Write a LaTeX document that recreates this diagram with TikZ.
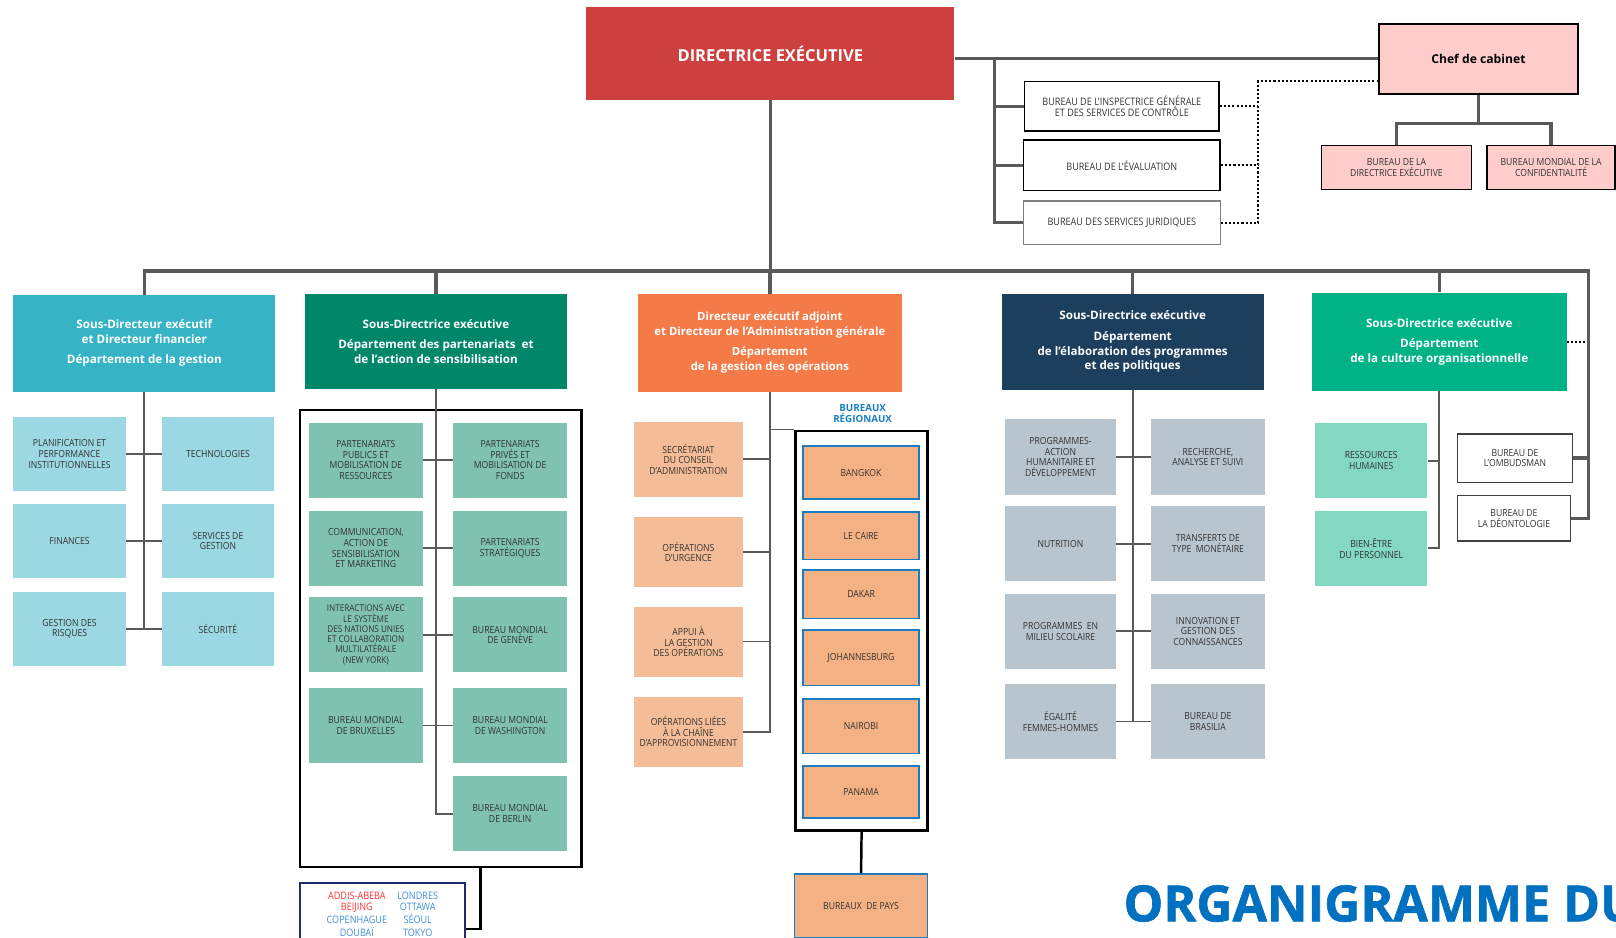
\documentclass[tikz,border=0pt]{standalone}
\usepackage{fontspec}
\setmainfont{Open Sans}
\newfontfamily\boxfont{Open Sans}[FakeStretch=0.88]
\newfontfamily\titlefont{Open Sans}[FakeBold=1.2]

\definecolor{linegray}{HTML}{5A5A5A}
\definecolor{textgray}{HTML}{333333}
\definecolor{dirred}{HTML}{CD4040}
\definecolor{chefpink}{HTML}{FFCCCC}
\definecolor{gestteal}{HTML}{36B4C5}
\definecolor{gestlight}{HTML}{9BD8E2}
\definecolor{partgreen}{HTML}{00876A}
\definecolor{partlight}{HTML}{7FC2AF}
\definecolor{opsorange}{HTML}{F47A48}
\definecolor{opslight}{HTML}{F5BD97}
\definecolor{regfill}{HTML}{F4B183}
\definecolor{regblue}{HTML}{1A7DC4}
\definecolor{progblue}{HTML}{1C3F5E}
\definecolor{proglight}{HTML}{B8C4CE}
\definecolor{cultgreen}{HTML}{00B386}
\definecolor{cultlight}{HTML}{82D8C0}
\definecolor{titleblue}{HTML}{0070C0}
\definecolor{cityred}{HTML}{FF3030}
\definecolor{cityblue}{HTML}{3F8ED8}
\definecolor{navy}{HTML}{1F2D6B}

\begin{document}
\begin{tikzpicture}[x=1pt, y=-1pt,
  bus/.style={draw=linegray, line width=3.2pt},
  stub/.style={draw=linegray, line width=1.8pt},
  dots/.style={draw=black, line width=2pt, dash pattern=on 2pt off 2pt},
  frame/.style={draw=black, line width=2.4pt, inner sep=0},
  head/.style={inner sep=0, text=white, align=center,
    font=\bfseries\fontsize{11.3}{14}\selectfont},
  sub/.style={inner sep=0, text=textgray, align=center,
    font=\boxfont\fontsize{9.5}{10.3}\selectfont},
  gestbox/.style={sub, fill=gestlight, minimum width=109, minimum height=72},
  partbox/.style={sub, fill=partlight, minimum width=110, minimum height=73},
  opsbox/.style={sub, fill=opslight, minimum width=106, minimum height=68},
  regbox/.style={sub, fill=regfill, draw=regblue, line width=1.6pt, minimum width=113},
  progbox/.style={sub, fill=proglight, minimum width=108, minimum height=73},
  cultbox/.style={sub, fill=cultlight, minimum width=109, minimum height=73},
  whitebox/.style={sub, fill=white, draw=black!75, line width=1.4pt, minimum width=112}]

  \useasboundingbox (0,0) rectangle (1568,910);

  % Top of the chart
  \node[head, fill=dirred, minimum width=357, minimum height=90,
    font=\bfseries\fontsize{16}{18}\selectfont] (dir) at (747.5,52) {DIRECTRICE EXÉCUTIVE};
  \node[head, fill=chefpink, draw=black, line width=1.6pt, text=black,
    minimum width=193, minimum height=68, font=\bfseries\fontsize{11.8}{14}\selectfont] (chef)
    at (1434.5,57) {Chef de cabinet};
  \node[sub, draw=black, line width=1.6pt, minimum width=189, minimum height=48,
    font=\boxfont\fontsize{10}{11}\selectfont] (insp)
    at (1088.5,103) {BUREAU DE L’INSPECTRICE GÉNÉRALE\\ET DES SERVICES DE CONTRÔLE};
  \node[sub, draw=black, line width=1.6pt, minimum width=191, minimum height=49,
    font=\boxfont\fontsize{10}{11}\selectfont] (eval)
    at (1088.5,160.5) {BUREAU DE L’ÉVALUATION};
  \node[sub, draw=gray, line width=1.2pt, minimum width=191, minimum height=42,
    font=\boxfont\fontsize{10}{11}\selectfont] (jur)
    at (1088.5,216) {BUREAU DES SERVICES JURIDIQUES};
  \node[sub, fill=chefpink, draw=black, line width=1.4pt, minimum width=146, minimum height=43] (bde)
    at (1355,162.5) {BUREAU DE LA\\DIRECTRICE EXÉCUTIVE};
  \node[sub, fill=chefpink, draw=black, line width=1.4pt, minimum width=124, minimum height=43] (bmc)
    at (1505,162.5) {BUREAU MONDIAL DE LA\\CONFIDENTIALITÉ};

  % Top links
  \coordinate (tbar) at (965,57);
  \coordinate (dotbar) at (1221,0);
  \coordinate (chefdot) at ([yshift=-22pt]chef.west);
  \coordinate (chefbar) at (1438,120);
  \coordinate (busR) at (1541,263);
  \draw[bus] (dir.east |- chef.west) -- (chef.west);
  \draw[bus] (tbar) |- (jur.west);
  \draw[bus] (insp.west) -- (insp.west -| tbar);
  \draw[bus] (eval.west) -- (eval.west -| tbar);
  \draw[dots] (insp.east) -- (insp.east -| dotbar);
  \draw[dots] (eval.east) -- (eval.east -| dotbar);
  \draw[dots] (jur.east) -| (dotbar |- chefdot) -- (chefdot);
  \draw[bus] (chef.south) -- (chef.south |- chefbar);
  \draw[bus] (bde.north) |- (chefbar) -| (bmc.north);

  % Department heads
  \node[head, fill=gestteal, minimum width=254, minimum height=94] (gest) at (140,333)
    {Sous-Directeur exécutif\\et Directeur financier\\[6pt]Département de la gestion};
  \node[head, fill=partgreen, minimum width=254, minimum height=92] (part) at (423,331)
    {Sous-Directrice exécutive\\[6pt]Département des partenariats\ \ et\\de l'action de sensibilisation};
  \node[head, fill=opsorange, minimum width=256, minimum height=95,
    font=\bfseries\fontsize{11}{14}\selectfont] (ops) at (747,332.5)
    {Directeur exécutif adjoint\\et Directeur de l’Administration générale\\[6pt]Département\\de la gestion des opérations};
  \node[head, fill=progblue, minimum width=254, minimum height=93] (prog) at (1099,331.5)
    {Sous-Directrice exécutive\\[6pt]Département\\de l’élaboration des programmes\\et des politiques};
  \node[head, fill=cultgreen, minimum width=247, minimum height=95] (cult) at (1396.5,331.5)
    {Sous-Directrice exécutive\\[6pt]Département\\de la culture organisationnelle};

  % Gestion
  \node[gestbox] (plan) at (67.5,440.5) {PLANIFICATION ET\\PERFORMANCE\\INSTITUTIONNELLES};
  \node[gestbox] (tech) at (211.5,440.5) {TECHNOLOGIES};
  \node[gestbox] (fin) at (67.5,525) {FINANCES};
  \node[gestbox] (sgest) at (211.5,525) {SERVICES DE\\GESTION};
  \node[gestbox] (risk) at (67.5,610) {GESTION DES\\RISQUES};
  \node[gestbox] (secu) at (211.5,610) {SÉCURITÉ};
  \draw[stub] (gest.south) -- (gest.south |- risk.east);
  \draw[stub] (plan.east) -- (tech.west);
  \draw[stub] (fin.east) -- (sgest.west);
  \draw[stub] (risk.east) -- (secu.west);

  % Partenariats
  \node[frame, minimum width=273, minimum height=443] (pframe) at (427.5,619.5) {};
  \node[partbox] (pub) at (355,446.5) {PARTENARIATS\\PUBLICS ET\\MOBILISATION DE\\RESSOURCES};
  \node[partbox] (priv) at (495,446.5) {PARTENARIATS\\PRIVÉS ET\\MOBILISATION DE\\FONDS};
  \node[partbox] (comm) at (355,532) {COMMUNICATION,\\ACTION DE\\SENSIBILISATION\\ET MARKETING};
  \node[partbox] (strat) at (495,532) {PARTENARIATS\\STRATÉGIQUES};
  \node[partbox, font=\boxfont\fontsize{9}{10}\selectfont] (onu) at (355,616)
    {INTERACTIONS AVEC\\LE SYSTÈME\\DES NATIONS UNIES\\ET COLLABORATION\\MULTILATÉRALE\\(NEW YORK)};
  \node[partbox] (gen) at (495,616) {BUREAU MONDIAL\\DE GENÈVE};
  \node[partbox] (brux) at (355,704) {BUREAU MONDIAL\\DE BRUXELLES};
  \node[partbox] (wash) at (495,704) {BUREAU MONDIAL\\DE WASHINGTON};
  \node[partbox] (berl) at (495,789.5) {BUREAU MONDIAL\\DE BERLIN};
  \draw[stub] (part.south) |- (berl.west);
  \draw[stub] (pub.east) -- (priv.west);
  \draw[stub] (comm.east) -- (strat.west);
  \draw[stub] (onu.east) -- (gen.west);
  \draw[stub] (brux.east) -- (wash.west);
  \node[sub, draw=navy, line width=2pt, minimum width=160, minimum height=63,
    font=\boxfont\fontsize{10}{10.6}\selectfont] (cities) at (371,888.5)
    {\begin{tabular}{@{}c@{\hspace{10pt}}c@{}}
      \color{cityred}ADDIS-ABEBA & \color{cityblue}LONDRES\\
      \color{cityred}BEIJING & \color{cityblue}OTTAWA\\
      \color{cityblue}COPENHAGUE & \color{cityblue}SÉOUL\\
      \color{cityblue}DOUBAÏ & \color{cityblue}TOKYO
    \end{tabular}};
  \draw[line width=2.4pt] ([xshift=38.5pt]pframe.south) |- ([yshift=-13pt]cities.east);

  % Operations
  \node[opsbox, minimum height=73] (sec) at (668,445.5) {SECRÉTARIAT\\DU CONSEIL\\D’ADMINISTRATION};
  \node[opsbox] (urg) at (668,535.5) {OPÉRATIONS\\D’URGENCE};
  \node[opsbox] (appui) at (668,622.5) {APPUI À\\LA GESTION\\DES OPÉRATIONS};
  \node[opsbox] (appro) at (668,710) {OPÉRATIONS LIÉES\\À LA CHAÎNE\\D’APPROVISIONNEMENT};
  \draw[stub] (ops.south) |- (appro.east);
  \draw[stub] (sec.east) -- (sec.east -| ops.south);
  \draw[stub] (urg.east) -- (urg.east -| ops.south);
  \draw[stub] (appui.east) -- (appui.east -| ops.south);

  % Regional offices
  \node[frame, minimum width=128, minimum height=388] (rframe) at (836,612) {};
  \node[inner sep=0, align=center, text=regblue, font=\bfseries\fontsize{9.5}{11}\selectfont] (regl)
    at (837,401) {BUREAUX\\RÉGIONAUX};
  \node[regbox, minimum height=51] (bkk) at (835.5,458.5) {BANGKOK};
  \node[regbox, minimum height=46] (cai) at (835.5,520) {LE CAIRE};
  \node[regbox, minimum height=47] (dkr) at (835.5,576.5) {DAKAR};
  \node[regbox, minimum height=54] (jnb) at (835.5,638) {JOHANNESBURG};
  \node[regbox, minimum height=53] (nbo) at (835.5,704.5) {NAIROBI};
  \node[regbox, minimum height=51] (pan) at (835.5,768.5) {PANAMA};
  \node[regbox, minimum width=129, minimum height=62] (pays) at (835.5,879) {BUREAUX\ \ DE PAYS};
  \draw[stub] (rframe.north west) -- (rframe.north west -| ops.south);
  \draw[line width=2.4pt] (rframe.south) -- (pays.north);

  % Programmes
  \node[progbox] (hum) at (1029,443.5) {PROGRAMMES-\\ACTION\\HUMANITAIRE ET\\DÉVELOPPEMENT};
  \node[progbox, minimum width=110] (rech) at (1172,443.5) {RECHERCHE,\\ANALYSE ET SUIVI};
  \node[progbox] (nutr) at (1029,527.5) {NUTRITION};
  \node[progbox, minimum width=110] (cash) at (1172,527.5) {TRANSFERTS DE\\TYPE\ \ MONÉTAIRE};
  \node[progbox] (ecole) at (1029,612.5) {PROGRAMMES\ \ EN\\MILIEU SCOLAIRE};
  \node[progbox, minimum width=110] (innov) at (1172,612.5) {INNOVATION ET\\GESTION DES\\CONNAISSANCES};
  \node[progbox] (egal) at (1029,700) {ÉGALITÉ\\FEMMES-HOMMES};
  \node[progbox, minimum width=110] (bras) at (1172,700) {BUREAU DE\\BRASILIA};
  \draw[stub] (prog.south) -- (prog.south |- egal.east);
  \draw[stub] (hum.east) -- (rech.west);
  \draw[stub] (nutr.east) -- (cash.west);
  \draw[stub] (ecole.east) -- (innov.west);
  \draw[stub] (egal.east) -- (bras.west);

  % Culture
  \node[cultbox] (rh) at (1330.5,447) {RESSOURCES\\HUMAINES};
  \node[cultbox] (bien) at (1330.5,532) {BIEN-ÊTRE\\DU PERSONNEL};
  \node[whitebox, minimum height=47] (ombud) at (1470,444.5) {BUREAU DE\\L’OMBUDSMAN};
  \node[whitebox, minimum width=110, minimum height=44] (deon) at (1469,503) {BUREAU DE\\LA DÉONTOLOGIE};
  \draw[stub] (cult.south) |- (bien.east);
  \draw[stub] (rh.east) -- (rh.east -| cult.south);
  \draw[bus] (ombud.east) -- (ombud.east -| busR);
  \draw[dots] (cult.east) -- (cult.east -| busR);

  % Main bus
  \draw[bus] (dir.south) -- (dir.south |- busR);
  \draw[bus] (gest.north) |- (busR) |- (deon.east);
  \draw[bus] (part.north) -- (part.north |- busR);
  \draw[bus] (ops.north) -- (ops.north |- busR);
  \draw[bus] (prog.north) -- (prog.north |- busR);
  \draw[bus] (cult.north) -- (cult.north |- busR);

  % Title
  \node[anchor=base west, inner sep=0, text=titleblue, font=\titlefont\bfseries\fontsize{48.5}{48.5}\selectfont]
    (title) at (1090,894) {ORGANIGRAMME DU};
\end{tikzpicture}
\end{document}
